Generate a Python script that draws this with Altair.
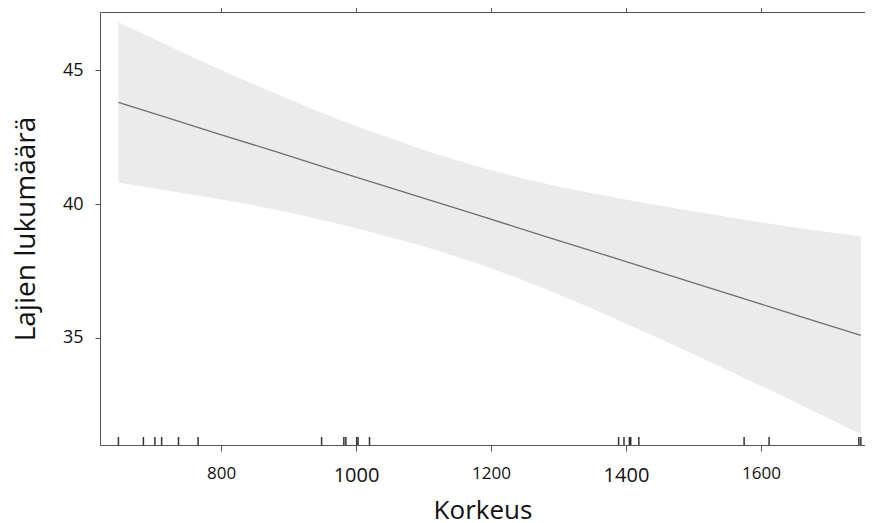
import altair as alt
import pandas as pd

# Confidence band and fitted line
band_x = [648, 720, 797, 880, 975, 1050, 1113, 1182, 1280, 1379, 1480, 1578, 1660, 1748]
band_upper = [46.80, 45.95, 45.05, 44.14, 43.16, 42.47, 41.92, 41.40, 40.77, 40.27, 39.82, 39.41, 39.09, 38.80]
band_lower = [40.80, 40.51, 40.19, 39.80, 39.26, 38.77, 38.32, 37.76, 36.83, 35.77, 34.62, 33.47, 32.49, 31.40]
fit_y = [43.80, 43.23, 42.62, 41.97, 41.21, 40.62, 40.12, 39.58, 38.80, 38.02, 37.22, 36.44, 35.79, 35.10]

# Rug of observed heights
rug_x = [648, 685, 702, 712, 737, 766, 949, 982, 985, 1001, 1003, 1020,
         1389, 1397, 1405, 1407, 1419, 1575, 1612, 1745, 1748]

x_ticks = [800, 1000, 1200, 1400, 1600]
y_ticks = [35, 40, 45]

band_df = pd.DataFrame({"x": band_x, "lo": band_lower, "hi": band_upper, "fit": fit_y})
rug_df = pd.DataFrame({"x": rug_x})

FONT = "Open Sans"
xscale = alt.Scale(domain=[620.7, 1754.1], nice=False, zero=False)
yscale = alt.Scale(domain=[31.0, 47.18], nice=False, zero=False)

x_bottom = alt.Axis(
    orient="bottom", values=x_ticks, format="d", title="Korkeus", grid=False,
    domainColor="#555555", tickColor="#555555", tickSize=6,
    labelColor="#111111", labelFont=FONT,
    labelFontSize={"condition": {"test": "datum.value == 1000 || datum.value == 1400", "value": 20}, "value": 17},
    labelPadding=14, titleFont=FONT, titleFontSize=26, titleFontWeight="normal",
    titleColor="#111111", titlePadding=12, labelFlush=False,
)
x_top = alt.Axis(
    orient="top", values=x_ticks, title=None, grid=False, labels=False,
    domainColor="#555555", tickColor="#555555", tickSize=5,
)
y_axis = alt.Axis(
    values=y_ticks, title="Lajien lukumäärä", grid=False,
    domainColor="#555555", tickColor="#555555", tickSize=5,
    labelColor="#111111", labelFont=FONT, labelFontSize=18, labelPadding=12,
    titleFont=FONT, titleFontSize=28, titleFontWeight="normal",
    titleColor="#111111", titlePadding=22,
)

band = alt.Chart(band_df).mark_area(color="#ebebeb", interpolate="monotone").encode(
    x=alt.X("x:Q", scale=xscale, axis=x_bottom),
    y=alt.Y("lo:Q", scale=yscale, axis=y_axis),
    y2="hi:Q",
)
line = alt.Chart(band_df).mark_line(color="#6e6e6e", strokeWidth=1.3).encode(
    x=alt.X("x:Q", scale=xscale, axis=x_top),
    y=alt.Y("fit:Q", scale=yscale),
)
rug = alt.Chart(rug_df).mark_rule(color="#333333", strokeWidth=1.5).encode(
    x=alt.X("x:Q", scale=xscale, axis=None),
    y=alt.value(425),
    y2=alt.value(433),
)

chart = (
    alt.layer(band, line, rug)
    .resolve_axis(x="independent")
    .resolve_scale(x="shared")
    .properties(
        width=765, height=433,
        autosize=alt.AutoSizeParams(type="none"),
        padding={"left": 92, "top": 4, "right": 0, "bottom": 78},
        background="white",
    )
    .configure_view(stroke=None)
)

chart.save("out.html", embed_options={"renderer": "svg", "actions": False})
